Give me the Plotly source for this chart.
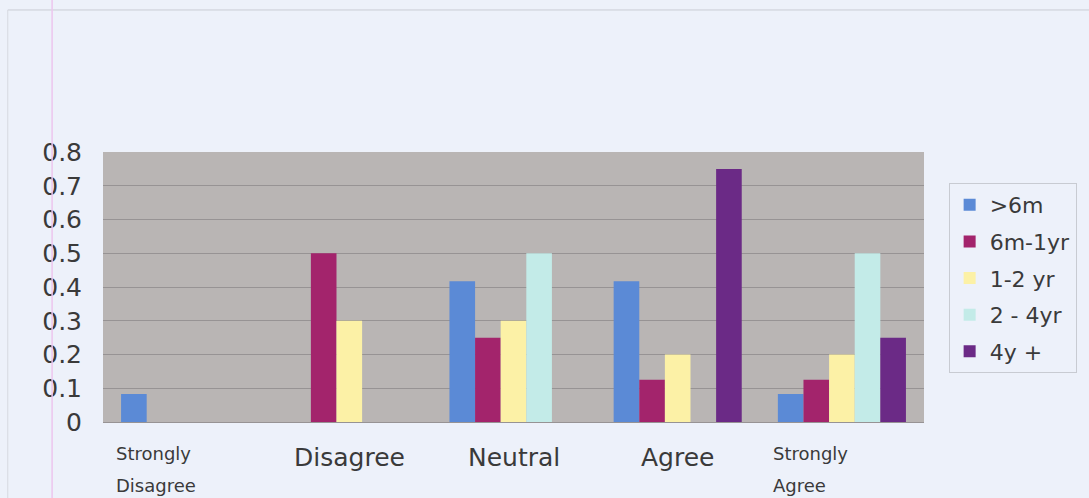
import plotly.graph_objects as go

# Survey response categories (x axis)
categories = ["Strongly Disagree", "Disagree", "Neutral", "Agree", "Strongly Agree"]

# Proportion of respondents per experience group
series_names = [">6m", "6m-1yr", "1-2 yr", "2 - 4yr", "4y +"]
v_lt6m = [0.083, 0, 0.417, 0.417, 0.083]
v_6m_1yr = [0, 0.5, 0.25, 0.125, 0.125]
v_1_2yr = [0, 0.3, 0.3, 0.2, 0.2]
v_2_4yr = [0, 0, 0.5, 0, 0.5]
v_4yplus = [0, 0, 0, 0.75, 0.25]
series_values = [v_lt6m, v_6m_1yr, v_1_2yr, v_2_4yr, v_4yplus]

y_tickvals = [0, 0.1, 0.2, 0.3, 0.4, 0.5, 0.6, 0.7, 0.8]
y_ticktext = ["0", "0.1", "0.2", "0.3", "0.4", "0.5", "0.6", "0.7", "0.8"]

colors = ["#5b8ad6", "#a3246c", "#fcf1a6", "#c3ebe8", "#6b2a86"]

PAPER_BG = "#edf1fa"
PLOT_BG = "#b9b5b4"
TEXT = "#3a3a3a"
FONT = "DejaVu Sans, Verdana, sans-serif"

fig = go.Figure()
for name, vals, col in zip(series_names, series_values, colors):
    fig.add_trace(go.Bar(
        x=categories, y=vals, name=name, legendgroup=name,
        marker=dict(color=col, line=dict(width=0)),
    ))

# Category labels: long ones are set small on two lines, short ones large
annotations = []
for cat in categories:
    words = cat.split(" ")
    if len(words) > 1:
        for i, w in enumerate(words):
            annotations.append(dict(
                x=cat, xref="x", y=-0.115 - i * 0.122, yref="paper",
                text=w, showarrow=False, xanchor="left", yanchor="middle",
                xshift=-71, font=dict(size=18, color=TEXT, family=FONT),
            ))
    else:
        annotations.append(dict(
            x=cat, xref="x", y=-0.133, yref="paper",
            text=cat, showarrow=False, xanchor="center", yanchor="middle",
            font=dict(size=25, color=TEXT, family=FONT),
        ))

shapes = [
    # outer page frame
    dict(type="line", xref="paper", yref="paper",
         x0=-0.116, x1=1.25, y0=1.526, y1=1.526,
         line=dict(color="#c9ccd4", width=1)),
    dict(type="line", xref="paper", yref="paper",
         x0=-0.116, x1=-0.116, y0=1.526, y1=-0.3,
         line=dict(color="#d6d9e0", width=1)),
    # margin rule
    dict(type="line", xref="paper", yref="paper",
         x0=-0.062, x1=-0.062, y0=1.6, y1=-0.3,
         line=dict(color="#ecc6ee", width=1.5)),
]

fig.update_layout(
    width=1089, height=498,
    margin=dict(l=103, r=165, t=152, b=76),
    paper_bgcolor=PAPER_BG,
    plot_bgcolor=PLOT_BG,
    font=dict(family=FONT, color=TEXT),
    barmode="group",
    bargap=0.22,
    bargroupgap=0,
    showlegend=True,
    legend=dict(
        x=1.03, y=0.885, xanchor="left", yanchor="top",
        bgcolor=PAPER_BG, bordercolor="#c8cbd2", borderwidth=1,
        font=dict(size=22, color=TEXT, family=FONT),
        itemwidth=30, tracegroupgap=5,
    ),
    xaxis=dict(showticklabels=False, showgrid=False, showline=False,
               zeroline=False, fixedrange=True),
    yaxis=dict(
        range=[0, 0.8], tickvals=y_tickvals, ticktext=y_ticktext,
        showgrid=True, gridcolor="#979394", gridwidth=1,
        zeroline=True, zerolinecolor="#979394", zerolinewidth=1,
        showline=False, ticklabelstandoff=20,
        tickfont=dict(size=25, color=TEXT, family=FONT),
    ),
    annotations=annotations,
    shapes=shapes,
)

fig.write_html("out.html")
